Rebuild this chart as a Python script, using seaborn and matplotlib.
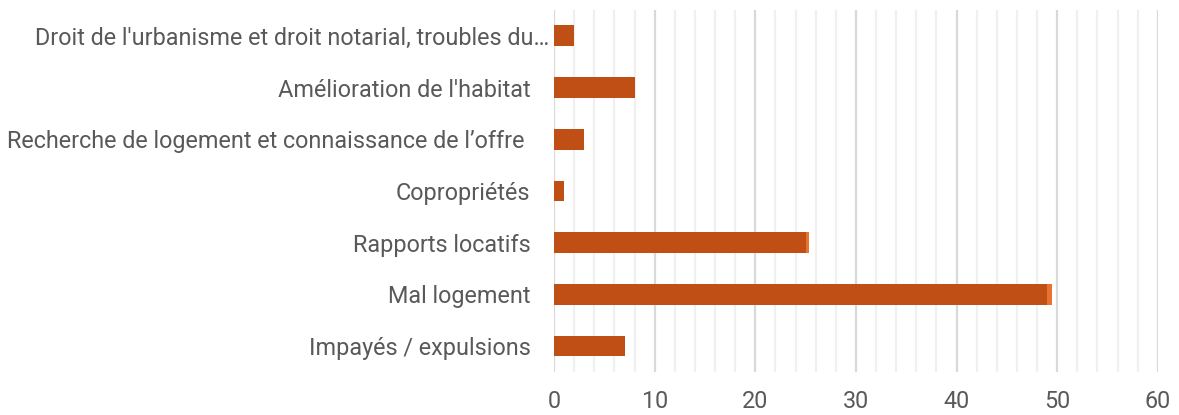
import matplotlib
matplotlib.use("Agg")
import matplotlib.pyplot as plt
import matplotlib.transforms as mtransforms
import numpy as np
import pandas as pd
import seaborn as sns

categories = [
    "Droit de l'urbanisme et droit notarial, troubles du…",
    "Amélioration de l'habitat",
    "Recherche de logement et connaissance de l’offre ",
    "Copropriétés",
    "Rapports locatifs",
    "Mal logement",
    "Impayés / expulsions",
]
main_values = [2, 8, 3, 1, 25, 49, 7]
extra_values = [0, 0, 0, 0, 0.3, 0.5, 0]
x_ticks = [0, 10, 20, 30, 40, 50, 60]

df = pd.DataFrame({"categorie": categories, "main": main_values, "extra": extra_values})
df["total"] = df["main"] + df["extra"]

sns.set_style("white")
plt.rcParams["font.family"] = ["Roboto", "DejaVu Sans"]
text_color = "#595959"

fig, ax = plt.subplots(figsize=(11.79, 4.15), dpi=100)
fig.subplots_adjust(left=0.47, right=0.982, top=0.976, bottom=0.104)

sns.barplot(data=df, x="total", y="categorie", order=categories, color="#E97132",
            width=0.4, saturation=1, linewidth=0, ax=ax)
sns.barplot(data=df, x="main", y="categorie", order=categories, color="#C04F15",
            width=0.4, saturation=1, linewidth=0, ax=ax)

ax.set_xlim(0, 60)
ax.set_xticks(x_ticks)
ax.set_xticks(np.arange(0, 61, 2), minor=True)
ax.grid(axis="x", which="major", color="#D9D9D9", linewidth=1.6)
ax.grid(axis="x", which="minor", color="#F0F0F0", linewidth=1.6)
ax.grid(axis="y", visible=False)
ax.set_axisbelow(True)
ax.set_xlabel("")
ax.set_ylabel("")
sns.despine(ax=ax, left=True, bottom=True)
ax.tick_params(axis="both", which="both", length=0, labelcolor=text_color, labelsize=16.8)
ax.tick_params(axis="x", pad=13)
ax.tick_params(axis="y", pad=17)

# first label is truncated and sits closer to the axis
lbl = ax.get_yticklabels()[0]
lbl.set_transform(lbl.get_transform() + mtransforms.ScaledTranslation(0.19, 0, fig.dpi_scale_trans))

fig.savefig("out.png", dpi=100)
